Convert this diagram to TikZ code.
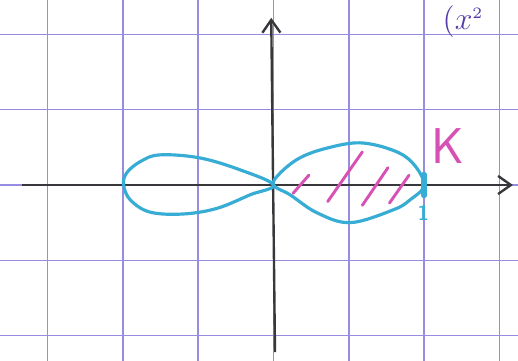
\documentclass[tikz,border=0pt]{standalone}
\usetikzlibrary{arrows.meta}
\definecolor{gridc}{RGB}{150,140,225}
\definecolor{curvec}{RGB}{55,172,212}
\definecolor{hatchc}{RGB}{215,80,180}
\definecolor{inkc}{RGB}{85,60,170}
\definecolor{axisc}{RGB}{55,55,60}
\tikzset{
  gridline/.style={draw=gridc, line width=0.55pt},
  axisline/.style={draw=axisc, line width=0.9pt, -{Straight Barb[length=1.7mm,width=2.4mm,line width=0.9pt]}},
  curveline/.style={draw=curvec, line width=1.2pt, line cap=round, line join=round},
  hatchline/.style={draw=hatchc, line width=1.1pt, line cap=round},
  labelk/.style={text=hatchc, font=\sffamily\fontsize{19}{19}\selectfont, inner sep=0pt},
  labelone/.style={text=curvec, font=\sffamily\bfseries\fontsize{8}{8}\selectfont, inner sep=0pt},
  labeltop/.style={text=inkc, font=\fontsize{13}{13}\selectfont, inner sep=0pt}
}
\begin{document}
\begin{tikzpicture}
\useasboundingbox (-3.632,-2.337) rectangle (3.247,2.457);
\clip (-3.632,-2.337) rectangle (3.247,2.457);
% grid
\foreach \x in {-3,...,3} \draw[gridline] (\x,-2.4) -- (\x,2.5);
\foreach \y in {-2,...,2} \draw[gridline] (-3.7,\y) -- (3.3,\y);
% axes
\coordinate (xs) at (-3.34,0);
\coordinate (xe) at (3.18,0);
\coordinate (ys) at (0.02,-2.22);
\coordinate (ye) at (-0.03,2.22);
\draw[axisline] (xs) -- (xe);
\draw[axisline] (ys) -- (ye);
% right lobe
\draw[curveline] plot[smooth cycle, tension=0.6] coordinates {
 (0,0) (0.09,0.16) (0.35,0.36) (0.71,0.49) (1.15,0.56) (1.59,0.46) (1.85,0.29) (2,0)
 (1.81,-0.2) (1.59,-0.33) (1.02,-0.5) (0.58,-0.37) (0.22,-0.13)};
% left lobe
\draw[curveline] plot[smooth cycle, tension=0.6] coordinates {
 (0,0) (-0.44,0.2) (-0.98,0.36) (-1.51,0.40) (-1.77,0.31) (-1.95,0.16) (-1.99,0)
 (-1.9,-0.2) (-1.64,-0.36) (-1.2,-0.385) (-0.75,-0.31) (-0.31,-0.13)};
% end tick at x=1
\coordinate (ta) at (2,-0.14);
\coordinate (tb) at (2,0.14);
\draw[curveline, line width=2pt] (ta) -- (tb);
% hatching
\draw[hatchline] (0.26,-0.11) -- (0.47,0.13);
\draw[hatchline] (0.72,-0.22) -- (1.18,0.44);
\draw[hatchline] (1.18,-0.27) -- (1.52,0.23);
\draw[hatchline] (1.54,-0.24) -- (1.80,0.13);
% labels
\node[labelk] (k) at (2.32,0.52) {K};
\node[labelone] (one) at (1.99,-0.37) {1};
\node[labeltop, anchor=base west] (top) at (2.24,2.06) {$(x^{\scriptscriptstyle 2}$};
\end{tikzpicture}
\end{document}
